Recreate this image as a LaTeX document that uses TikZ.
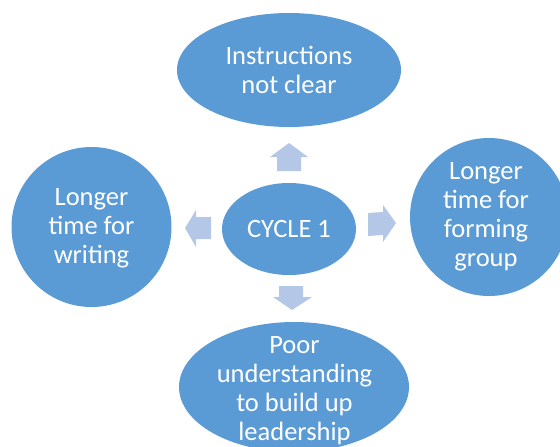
\documentclass[tikz,border=0pt]{standalone}
\usepackage{fontspec}
\setmainfont{Carlito}
\usetikzlibrary{shapes.geometric}
\definecolor{blobblue}{HTML}{5B9BD5}
\definecolor{arrowblue}{HTML}{B4C7E7}
\tikzset{
  blob/.style={ellipse, fill=blobblue, draw=none, inner sep=0pt},
  blobtext/.style={text=white, align=center, font=\fontsize{26.5}{29}\selectfont, inner sep=0pt},
  blockarrow/.style={fill=arrowblue, draw=none}
}
\begin{document}
\begin{tikzpicture}[x=1pt,y=-1pt]
\useasboundingbox (0,0) rectangle (560,447);
\clip (0,0) rectangle (560,447);
% ellipses
\node[blob, minimum width=134pt, minimum height=92pt] (c) at (289,229) {};
\node[blob, minimum width=224pt, minimum height=114pt] (t) at (289,70) {};
\node[blob, minimum width=160pt, minimum height=160pt] (l) at (91.5,227) {};
\node[blob, minimum width=158pt, minimum height=158pt] (r) at (489,217) {};
\node[blob, minimum width=230pt, minimum height=130pt] (b) at (294,387) {};
% texts
\node[blobtext] (ct) at (c) {CYCLE 1};
\node[blobtext] (tt) at (t) {Instructions\\not clear};
\node[blobtext] (lt) at (91.5,228.5) {Longer\\time for\\writing};
\node[blobtext] (rt) at (486,217) {Longer\\time for\\forming\\group};
\node[blobtext] (bt) at (294.5,391) {Poor\\understanding\\to build up\\leadership};
% block arrows
\fill[blockarrow] (289,143) -- (308,157) -- (301,157) -- (301,171) -- (277,171) -- (277,157) -- (270,157) -- cycle;
\fill[blockarrow] (185,228) -- (196,210) -- (196,217) -- (211,217) -- (211,239) -- (196,239) -- (196,247) -- cycle;
\fill[blockarrow] (396,223) -- (383,242) -- (383,235) -- (368,236) -- (368,213) -- (383,212) -- (383,205) -- cycle;
\fill[blockarrow] (292,310) -- (273,297) -- (279,297) -- (279,286) -- (303,286) -- (303,297) -- (312,297) -- cycle;
\end{tikzpicture}
\end{document}
